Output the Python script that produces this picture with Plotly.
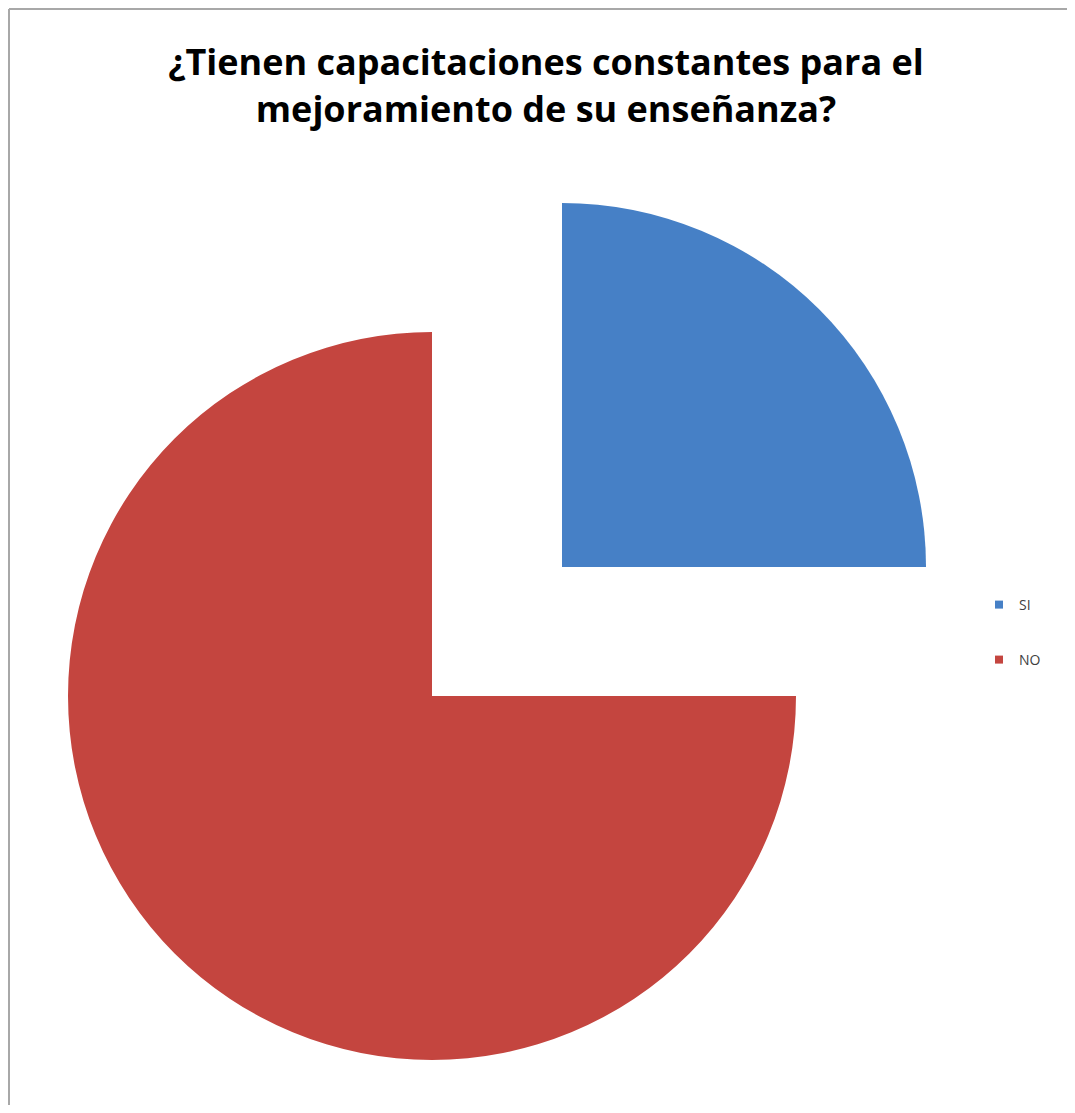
import plotly.graph_objects as go

# Data
labels = ["SI", "NO"]
values = [25, 75]
colors = ["#4680C6", "#C4453F"]
title_text = "¿Tienen capacitaciones constantes para el<br>mejoramiento de su enseñanza?"

# The page body has an 8px default margin; size the figure to fit inside it
OFF = 8
W, H = 1075 - 2 * OFF, 1113 - 2 * OFF

def px_x(p):
    return (p - OFF) / W

def px_y(p):
    return 1 - (p - OFF) / H

fig = go.Figure()

# Main pie (NO visible, SI slot empty)
fig.add_trace(go.Pie(
    labels=labels, values=values, sort=False, direction="clockwise", rotation=0,
    marker=dict(colors=["rgba(0,0,0,0)", colors[1]], line=dict(width=0)),
    textinfo="none", hoverinfo="label+percent", showlegend=False,
    domain=dict(x=[px_x(68), px_x(796)], y=[px_y(1060), px_y(332)]),
))
# Exploded SI slice
fig.add_trace(go.Pie(
    labels=labels, values=values, sort=False, direction="clockwise", rotation=0,
    marker=dict(colors=[colors[0], "rgba(0,0,0,0)"], line=dict(width=0)),
    textinfo="none", hoverinfo="label+percent", showlegend=False,
    domain=dict(x=[px_x(198), px_x(926)], y=[px_y(931), px_y(203)]),
))

# Legend entries
for i, (lab, col) in enumerate(zip(labels, colors)):
    fig.add_trace(go.Scatter(
        x=[None], y=[None], mode="markers", name=lab,
        marker=dict(symbol="square", size=8, color=col),
        legend="legend" if i == 0 else "legend2",
    ))

legend_common = dict(font=dict(family="Open Sans", size=14, color="#404040"),
                     bgcolor="rgba(0,0,0,0)", itemwidth=30, xanchor="left", yanchor="middle")

fig.update_layout(
    width=W, height=H,
    margin=dict(l=0, r=0, t=0, b=0),
    paper_bgcolor="white", plot_bgcolor="white",
    title=dict(text=title_text, x=px_x(546), xanchor="center", y=px_y(75), yanchor="top",
               font=dict(family="Open Sans", size=36, color="#000000", weight="bold")),
    xaxis=dict(visible=False), yaxis=dict(visible=False),
    legend=dict(x=px_x(979), y=px_y(605), **legend_common),
    legend2=dict(x=px_x(979), y=px_y(660), **legend_common),
    shapes=[
        dict(type="line", xref="paper", yref="paper", x0=1 / W, x1=1 / W, y0=0, y1=1 - 1 / H,
             line=dict(color="#A8A8A8", width=2)),
        dict(type="line", xref="paper", yref="paper", x0=1 / W, x1=1, y0=1 - 1 / H, y1=1 - 1 / H,
             line=dict(color="#A8A8A8", width=2)),
    ],
)

fig.write_html("out.html")
